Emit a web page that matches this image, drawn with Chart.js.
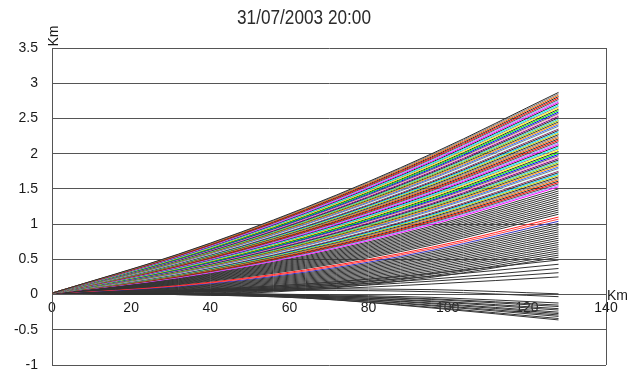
<!DOCTYPE html>
<html><head><meta charset="utf-8">
<script src="https://cdn.jsdelivr.net/npm/chart.js@4/dist/chart.umd.min.js"></script>
<style>html,body{margin:0;padding:0;background:#fff;overflow:hidden}#wrap{width:631px;height:369px;position:relative}</style>
</head><body><div id="wrap"><canvas id="c" width="631" height="369"></canvas></div>
<script>
const titleText = '31/07/2003 20:00';
const xUnit = 'Km';
const yUnit = 'Km';
const rangeKm = [0, 32, 64, 96, 128];
const startHeight = 0.02;
// beam heights (km) at 32, 64, 96 and 128 km range
const h32 = [
 0.575,0.570,0.565,0.560,0.555,0.550,0.545,0.540,0.535,0.530,0.525,0.520,0.515,0.510,0.505,0.500,0.495,0.490,0.485,0.480,
 0.475,0.470,0.465,0.460,0.455,0.450,0.445,0.440,0.435,0.430,0.425,0.420,0.415,0.410,0.405,0.400,0.395,0.390,0.385,0.380,
 0.375,0.370,0.365,0.360,0.355,0.350,0.345,0.340,0.335,0.330,0.325,0.320,0.315,0.310,0.305,0.300,0.295,0.290,0.285,0.280,
 0.275,0.270,0.265,0.260,0.255,0.250,0.245,0.240,
 0.232,0.225,0.217,0.210,0.202,0.195,0.187,0.180,0.172,0.165,0.157,0.150,0.142,
 0.132,0.125,0.117,0.110,0.102,0.095,0.087,0.080,0.072,0.065,0.057,0.050,0.042,0.035,0.027,0.020,0.012,0.005,0.0,0.0,
 0.06,0.055,0.05,0.045,0.04,
 0.05,0.04,0.02,0.02,0.015,0.01,0.01,0.01,0.005,0.005,0.0,0.0,0.0
];
const h64 = [
 1.234,1.224,1.214,1.204,1.194,1.184,1.174,1.164,1.154,1.144,1.134,1.124,1.114,1.104,1.094,1.084,1.074,1.064,1.054,1.044,
 1.034,1.024,1.014,1.004,0.994,0.984,0.974,0.964,0.954,0.944,0.934,0.924,0.914,0.904,0.894,0.884,0.874,0.864,0.854,0.844,
 0.834,0.824,0.814,0.804,0.794,0.784,0.774,0.764,0.754,0.744,0.734,0.724,0.714,0.704,0.694,0.684,0.674,0.664,0.654,0.644,
 0.634,0.624,0.614,0.604,0.594,0.584,0.574,0.564,
 0.549,0.534,0.519,0.504,0.489,0.474,0.459,0.444,0.429,0.414,0.399,0.384,0.369,
 0.349,0.334,0.319,0.304,0.289,0.274,0.259,0.244,0.229,0.214,0.199,0.184,0.169,0.154,0.139,0.124,0.109,0.094,0.079,0.064,
 0.15,0.13,0.11,0.09,0.07,
 0.08,0.06,0.0,-0.01,-0.01,-0.02,-0.02,-0.03,-0.03,-0.04,-0.04,-0.05,-0.05
];
const h96 = [
 2.000,1.985,1.970,1.955,1.940,1.925,1.910,1.895,1.880,1.865,1.850,1.835,1.820,1.805,1.790,1.775,1.760,1.745,1.730,1.715,
 1.700,1.685,1.670,1.655,1.640,1.625,1.610,1.595,1.580,1.565,1.550,1.535,1.520,1.505,1.490,1.475,1.460,1.445,1.430,1.415,
 1.400,1.385,1.370,1.355,1.340,1.325,1.310,1.295,1.280,1.265,1.250,1.235,1.220,1.205,1.190,1.175,1.160,1.145,1.130,1.115,
 1.100,1.085,1.070,1.055,1.040,1.025,1.010,0.995,
 0.972,0.950,0.927,0.905,0.882,0.860,0.837,0.815,0.792,0.770,0.747,0.725,0.702,
 0.672,0.650,0.627,0.605,0.582,0.560,0.537,0.515,0.492,0.470,0.447,0.425,0.402,0.380,0.357,0.335,0.312,0.290,0.267,0.245,
 0.30,0.26,0.22,0.19,0.15,
 0.07,0.04,-0.04,-0.06,-0.07,-0.09,-0.10,-0.12,-0.13,-0.15,-0.16,-0.18,-0.19
];
const h128 = [
 2.87,2.85,2.83,2.81,2.79,2.77,2.75,2.73,2.71,2.69,2.67,2.65,2.63,2.61,2.59,2.57,2.55,2.53,2.51,2.49,
 2.47,2.45,2.43,2.41,2.39,2.37,2.35,2.33,2.31,2.29,2.27,2.25,2.23,2.21,2.19,2.17,2.15,2.13,2.11,2.09,
 2.07,2.05,2.03,2.01,1.99,1.97,1.95,1.93,1.91,1.89,1.87,1.85,1.83,1.81,1.79,1.77,1.75,1.73,1.71,1.69,
 1.67,1.65,1.63,1.61,1.59,1.57,1.55,1.53,
 1.50,1.47,1.44,1.41,1.38,1.35,1.32,1.29,1.26,1.23,1.20,1.17,1.14,
 1.10,1.07,1.04,1.01,0.98,0.95,0.92,0.89,0.86,0.83,0.80,0.77,0.74,0.71,0.68,0.65,0.62,0.59,0.56,0.53,
 0.49,0.43,0.37,0.31,0.25,
 0.01,-0.03,-0.12,-0.15,-0.17,-0.20,-0.22,-0.25,-0.27,-0.29,-0.31,-0.34,-0.36
];
const xTicks = [0,20,40,60,80,100,120,140];
const yTicks = [-1,-0.5,0,0.5,1,1.5,2,2.5,3,3.5];

// styling
const palette = ['#2b2b2b','#808080','#FF6600','#2b2b2b','#FF0000','#505050','#9999FF','#FF00FF','#2b2b2b','#00FFFF',
 '#8a8a8a','#FFFF00','#2b2b2b','#00FF00','#0000FF','#606060','#FF99CC','#800080','#2b2b2b','#33CCCC',
 '#99CC00','#3a3a3a','#FF9900','#3366FF','#808080','#CCFFFF','#993366','#2b2b2b','#00CCFF','#CCCC00'];
const coloredCount = 68;
const accents = {81:'#FF2020', 82:'#FF4040', 83:'#3030C0'};
const lineColors = h128.map((e,i)=> i<coloredCount ? palette[i%palette.length] : (accents[i] || '#333333'));

const datasets = h128.map((e,i)=>{
  const hs = [startHeight, h32[i], h64[i], h96[i], e];
  return {data: rangeKm.map((km,j)=>({x:km, y:hs[j]})), borderColor: lineColors[i], borderWidth:1, pointRadius:0, fill:false};
});

const FONT = '"Liberation Sans", Arial, sans-serif';
const extras = {
  id:'extras',
  afterDraw(chart){
    const {ctx, chartArea:a, scales} = chart;
    ctx.save();
    ctx.strokeStyle = '#555'; ctx.lineWidth = 1;
    const rx = Math.round(a.right)+0.5;
    ctx.beginPath(); ctx.moveTo(rx, a.top); ctx.lineTo(rx, a.bottom); ctx.stroke();
    ctx.fillStyle = '#2a2a2a';
    ctx.font = '21px ' + FONT;
    ctx.textAlign = 'center'; ctx.textBaseline = 'middle';
    const w = ctx.measureText(titleText).width;
    ctx.save(); ctx.translate(304, 18); ctx.scale(134/w, 1); ctx.fillText(titleText, 0, 0); ctx.restore();
    ctx.fillStyle = '#1a1a1a';
    ctx.font = '14px ' + FONT;
    ctx.textAlign = 'left';
    ctx.fillText(xUnit, a.right+1, scales.y.getPixelForValue(0)+2);
    ctx.translate(54, 36); ctx.rotate(-Math.PI/2);
    ctx.textAlign = 'center';
    ctx.fillText(yUnit, 0, 0);
    ctx.restore();
  }
};

new Chart(document.getElementById('c'), {
  type:'line',
  data:{datasets},
  options:{
    responsive:false, animation:false, events:[],
    layout:{padding:{top:48,right:25,bottom:4,left:0}},
    plugins:{legend:{display:false}, tooltip:{enabled:false}, title:{display:false}},
    elements:{point:{radius:0}, line:{borderWidth:1, cubicInterpolationMode:'monotone'}},
    scales:{
      x:{type:'linear', min:0, max:140, position:{y:0},
         afterBuildTicks:s=>{s.ticks = xTicks.map(v=>({value:v}));},
         grid:{display:false, drawTicks:false}, border:{display:false},
         ticks:{font:{family:FONT, size:14}, color:'#1a1a1a', padding:5, maxRotation:0, autoSkip:false, callback:v=>String(v)}},
      y:{type:'linear', min:-1, max:3.5,
         afterBuildTicks:s=>{s.ticks = yTicks.map(v=>({value:v}));},
         afterFit:s=>{s.width=52; s.paddingTop=0; s.paddingBottom=0;},
         grid:{color:'#555', lineWidth:1, drawTicks:false}, border:{color:'#555', width:1},
         ticks:{font:{family:FONT, size:14}, color:'#1a1a1a', padding:14, autoSkip:false, callback:v=>String(v)}}
    }
  },
  plugins:[extras]
});
</script></body></html>
